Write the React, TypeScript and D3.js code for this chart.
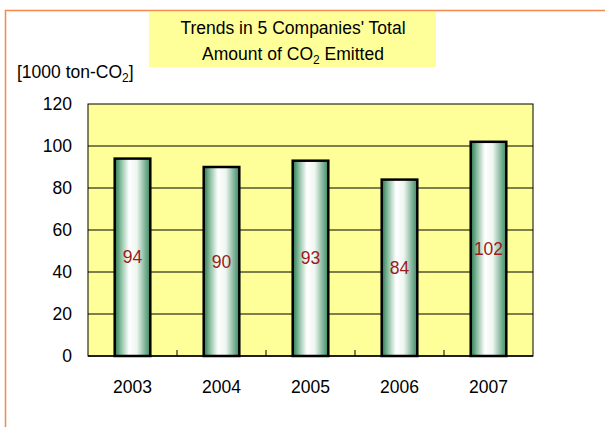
import React from "react";
import * as d3 from "d3";

const years = ["2003", "2004", "2005", "2006", "2007"];
const totals = [94, 90, 93, 84, 102];
const yTicks = [0, 20, 40, 60, 80, 100, 120];

const W = 605;
const H = 427;
const plot = { left: 88, right: 533, top: 104, bottom: 356 };
const font = "'Liberation Sans', Arial, sans-serif";
const fs = 17.5;

export default function App() {
  const x = d3
    .scaleBand()
    .domain(years)
    .range([plot.left, plot.right])
    .paddingInner(0.6)
    .paddingOuter(0.3);
  const y = d3.scaleLinear().domain([0, 120]).range([plot.bottom, plot.top]);
  const bounds = d3.range(1, years.length).map((i) => plot.left + (plot.right - plot.left) * (i / years.length));

  return (
    <svg
      width={W}
      height={H}
      style={{ position: "absolute", left: 0, top: 0, fontFamily: font }}
    >
      <defs>
        <linearGradient id="barGrad" x1="0%" y1="0%" x2="100%" y2="0%">
          <stop offset="0%" stopColor="#2a7650" />
          <stop offset="18%" stopColor="#8cc0a2" />
          <stop offset="40%" stopColor="#ffffff" />
          <stop offset="62%" stopColor="#eef6f0" />
          <stop offset="100%" stopColor="#3a8a62" />
        </linearGradient>
      </defs>
      <rect x={0} y={0} width={W} height={H} fill="#ffffff" />
      {/* outer frame, only left and top visible */}
      <rect x={5.5} y={10.5} width={W + 20} height={H + 20} fill="none" stroke="#f4894a" strokeWidth={1.5} />

      {/* title box */}
      <rect x={149} y={12} width={287} height={55} fill="#ffff99" />
      <text x={293} y={34} textAnchor="middle" fontSize={fs} fill="#000">
        Trends in 5 Companies' Total
      </text>
      <text x={293} y={60} textAnchor="middle" fontSize={fs} fill="#000">
        Amount of CO<tspan fontSize={12} dy={4}>2</tspan>
        <tspan dy={-4}> Emitted</tspan>
      </text>

      {/* unit label */}
      <text x={17} y={78} fontSize={fs} fill="#000">
        [1000 ton-CO<tspan fontSize={12} dy={4}>2</tspan>
        <tspan dy={-4}>]</tspan>
      </text>

      {/* plot area */}
      <rect
        x={plot.left}
        y={plot.top}
        width={plot.right - plot.left}
        height={plot.bottom - plot.top}
        fill="#ffff99"
        stroke="#000"
        strokeWidth={1}
      />
      {yTicks
        .filter((t) => t > 0 && t < 120)
        .map((t) => (
          <line key={t} x1={plot.left} x2={plot.right} y1={y(t)} y2={y(t)} stroke="#000" strokeWidth={1} />
        ))}
      {bounds.map((b, i) => (
        <line key={i} x1={b} x2={b} y1={plot.bottom} y2={plot.bottom - 6} stroke="#000" strokeWidth={1} />
      ))}

      {/* bars */}
      {years.map((yr, i) => (
        <g key={yr}>
          <rect
            x={x(yr)!}
            y={y(totals[i])}
            width={x.bandwidth()}
            height={plot.bottom - y(totals[i])}
            fill="url(#barGrad)"
            stroke="#000"
            strokeWidth={2.5}
          />
          <text
            x={x(yr)! + x.bandwidth() / 2}
            y={(y(totals[i]) + plot.bottom) / 2 + 6}
            textAnchor="middle"
            fontSize={fs}
            fill="#9b1b1b"
          >
            {totals[i]}
          </text>
        </g>
      ))}
      <line x1={plot.left} x2={plot.right} y1={plot.bottom} y2={plot.bottom} stroke="#000" strokeWidth={1.5} />

      {/* y tick labels */}
      {yTicks.map((t) => (
        <text key={t} x={72} y={y(t) + 6} textAnchor="end" fontSize={fs} fill="#000">
          {t}
        </text>
      ))}

      {/* x labels */}
      {years.map((yr) => (
        <text key={yr} x={x(yr)! + x.bandwidth() / 2} y={393} textAnchor="middle" fontSize={fs} fill="#000">
          {yr}
        </text>
      ))}
    </svg>
  );
}
